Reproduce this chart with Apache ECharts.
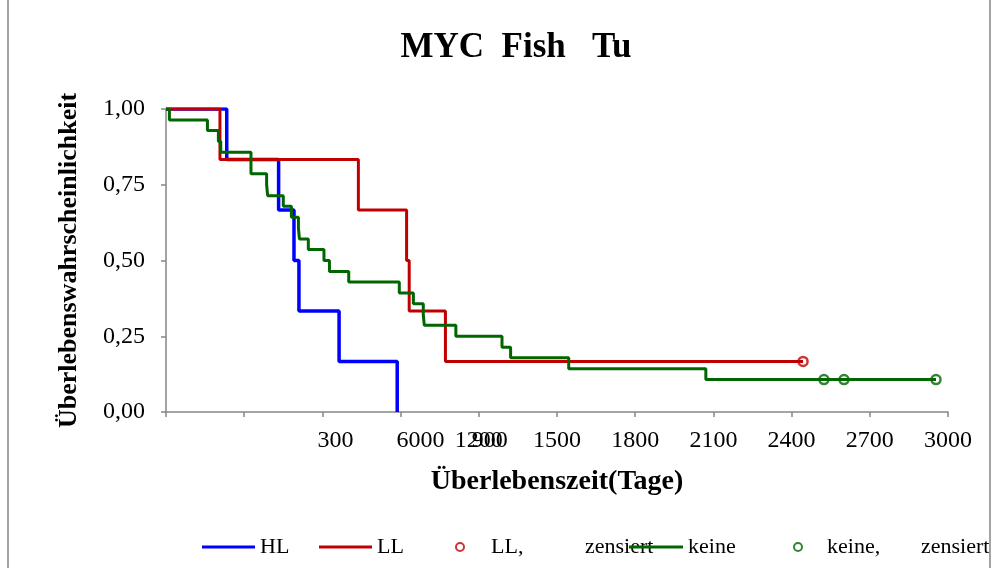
<!DOCTYPE html>
<html>
<head>
<meta charset="utf-8">
<script src="https://cdn.jsdelivr.net/npm/echarts@6/dist/echarts.min.js"></script>
<style>
  html, body { margin: 0; padding: 0; background: #fff; }
  #chart { width: 999px; height: 568px; }
</style>
</head>
<body>
<div id="chart"></div>
<script>
// Kaplan-Meier step data: day of each event and survival after it
const hlDays = [0, 233, 432, 491, 510, 664, 887];
const hlSurv = [1, 0.833, 0.667, 0.5, 0.333, 0.167, 0];

const llDays = [0, 207, 738, 923, 933, 1072, 2444];
const llSurv = [1, 0.833, 0.667, 0.5, 0.333, 0.167, 0.167];
const llCensDays = [2444];
const llCensSurv = [0.167];

const keineDays = [0, 13, 159, 201, 210, 326, 386, 390, 450, 481, 508, 512, 546, 606, 627, 701, 895, 949, 987, 991, 1112, 1289, 1322, 1545, 2071, 2954];
const keineSurv = [1, 0.964, 0.929, 0.893, 0.857, 0.786, 0.75, 0.714, 0.679, 0.643, 0.607, 0.571, 0.536, 0.5, 0.464, 0.429, 0.393, 0.357, 0.321, 0.286, 0.25, 0.214, 0.179, 0.143, 0.107, 0.107];
const keineCensDays = [2524, 2601, 2954];
const keineCensSurv = [0.107, 0.107, 0.107];

// Tick labels on the day axis as printed (keyed by tick value)
const xTickLabels = { 600: '300', 900: '6000', 1200: '1200', 1500: '1500', 1800: '1800', 2100: '2100', 2400: '2400', 2700: '2700', 3000: '3000' };
const xTickShift = { 600: 13, 900: 20, 1200: 0 };
const xOverlayLabels = { 1200: '900' };
const xOverlayShift = { 1200: 11 };

const yTicks = [0, 0.25, 0.5, 0.75, 1];

const pairs = (xs, ys) => xs.map((x, i) => [x, ys[i]]);

const FONT = 'Liberation Serif';
const GRAY = '#868686';
const C_HL = '#0000ff';
const C_LL = '#c00000';
const C_KE = '#006600';

function shiftedLabel(text, shift) {
  if (!shift) return text;
  return shift > 0 ? '{r' + shift + '|' + text + '}' : '{l' + (-shift) + '|' + text + '}';
}
function shiftRich(shifts) {
  const rich = {};
  Object.values(shifts).forEach(s => {
    if (s > 0) rich['r' + s] = { padding: [0, 0, 0, 2 * s], fontFamily: FONT, fontSize: 24, color: '#000' };
    else if (s < 0) rich['l' + (-s)] = { padding: [0, 2 * -s, 0, 0], fontFamily: FONT, fontSize: 24, color: '#000' };
  });
  return rich;
}

const chart = echarts.init(document.getElementById('chart'), null, { renderer: 'canvas' });

const legendBase = {
  orient: 'horizontal',
  top: 536,
  padding: 0,
  itemGap: 0,
  selectedMode: false,
  textStyle: { fontFamily: FONT, fontSize: 22, color: '#000' }
};
const censRich = {
  a: { width: 94, fontFamily: FONT, fontSize: 22, color: '#000' },
  b: { fontFamily: FONT, fontSize: 22, color: '#000' }
};

chart.setOption({
  animation: false,
  backgroundColor: '#fff',
  title: {
    text: 'MYC  Fish   Tu',
    left: 516,
    textAlign: 'center',
    top: 30,
    padding: 0,
    textStyle: { fontFamily: FONT, fontWeight: 'bold', fontSize: 35, color: '#000' }
  },
  graphic: [{
    type: 'rect',
    shape: { x: 8, y: -5, width: 982, height: 590 },
    style: { fill: 'none', stroke: GRAY, lineWidth: 1.5 },
    silent: true
  }],
  grid: { left: 166, right: 51, top: 109, bottom: 156 },
  legend: [
    Object.assign({}, legendBase, { left: 202, data: [{ name: 'HL', icon: 'rect' }], itemWidth: 53, itemHeight: 3 }),
    Object.assign({}, legendBase, { left: 319, data: [{ name: 'LL', icon: 'rect' }], itemWidth: 53, itemHeight: 3 }),
    Object.assign({}, legendBase, {
      left: 455, data: [{ name: 'LL, zensiert', icon: 'circle' }], itemWidth: 8, itemHeight: 8,
      formatter: () => '{a|LL,}{b|zensiert}',
      textStyle: { fontFamily: FONT, fontSize: 22, color: '#000', padding: [0, 0, 0, 22], rich: censRich }
    }),
    Object.assign({}, legendBase, { left: 629, data: [{ name: 'keine', icon: 'rect' }], itemWidth: 54, itemHeight: 3 }),
    Object.assign({}, legendBase, {
      left: 793, data: [{ name: 'keine, zensiert', icon: 'circle' }], itemWidth: 8, itemHeight: 8,
      formatter: () => '{a|keine,}{b|zensiert}',
      textStyle: { fontFamily: FONT, fontSize: 22, color: '#000', padding: [0, 0, 0, 20], rich: censRich }
    })
  ],
  xAxis: [{
    type: 'value',
    min: 0, max: 3000, interval: 300,
    position: 'bottom',
    name: 'Überlebenszeit(Tage)',
    nameLocation: 'middle',
    nameGap: 56,
    nameTextStyle: { fontFamily: FONT, fontWeight: 'bold', fontSize: 28, color: '#000' },
    splitLine: { show: false },
    axisLine: { lineStyle: { color: GRAY, width: 1.5 } },
    axisTick: { show: true, length: 5, lineStyle: { color: GRAY, width: 1.5 } },
    axisLabel: {
      margin: 17,
      fontFamily: FONT, fontSize: 24, color: '#000',
      formatter: v => xTickLabels[v] ? shiftedLabel(xTickLabels[v], xTickShift[v]) : '',
      rich: shiftRich(xTickShift)
    }
  }, {
    type: 'value',
    min: 0, max: 3000, interval: 300,
    position: 'bottom',
    splitLine: { show: false },
    axisLine: { show: false },
    axisTick: { show: false },
    axisLabel: {
      margin: 17,
      fontFamily: FONT, fontSize: 24, color: '#000',
      formatter: v => xOverlayLabels[v] ? shiftedLabel(xOverlayLabels[v], xOverlayShift[v]) : '',
      rich: shiftRich(xOverlayShift)
    }
  }],
  yAxis: {
    type: 'value',
    min: yTicks[0], max: yTicks[yTicks.length - 1], interval: 0.25,
    name: 'Überlebenswahrscheinlichkeit',
    nameLocation: 'middle',
    nameGap: 84,
    nameTextStyle: { fontFamily: FONT, fontWeight: 'bold', fontSize: 26, color: '#000' },
    splitLine: { show: false },
    axisLine: { show: true, lineStyle: { color: GRAY, width: 1.5 } },
    axisTick: { show: true, length: 5, lineStyle: { color: GRAY, width: 1.5 } },
    axisLabel: {
      margin: 21,
      fontFamily: FONT, fontSize: 24, color: '#000',
      formatter: v => v.toFixed(2).replace('.', ',')
    }
  },
  series: [
    {
      name: 'HL', type: 'line', step: 'end', showSymbol: false, symbol: 'none',
      data: pairs(hlDays, hlSurv),
      lineStyle: { color: C_HL, width: 3.5 }, itemStyle: { color: C_HL }
    },
    {
      name: 'LL', type: 'line', step: 'end', showSymbol: false, symbol: 'none',
      data: pairs(llDays, llSurv),
      lineStyle: { color: C_LL, width: 3 }, itemStyle: { color: C_LL }
    },
    {
      name: 'LL, zensiert', type: 'scatter', symbol: 'circle', symbolSize: 9,
      data: pairs(llCensDays, llCensSurv),
      itemStyle: { color: '#fff', borderColor: C_LL, borderWidth: 2.5 }
    },
    {
      name: 'keine', type: 'line', step: 'end', showSymbol: false, symbol: 'none',
      data: pairs(keineDays, keineSurv),
      lineStyle: { color: C_KE, width: 3 }, itemStyle: { color: C_KE }
    },
    {
      name: 'keine, zensiert', type: 'scatter', symbol: 'circle', symbolSize: 9,
      data: pairs(keineCensDays, keineCensSurv),
      itemStyle: { color: '#fff', borderColor: C_KE, borderWidth: 2.5 }
    }
  ]
});
</script>
</body>
</html>
